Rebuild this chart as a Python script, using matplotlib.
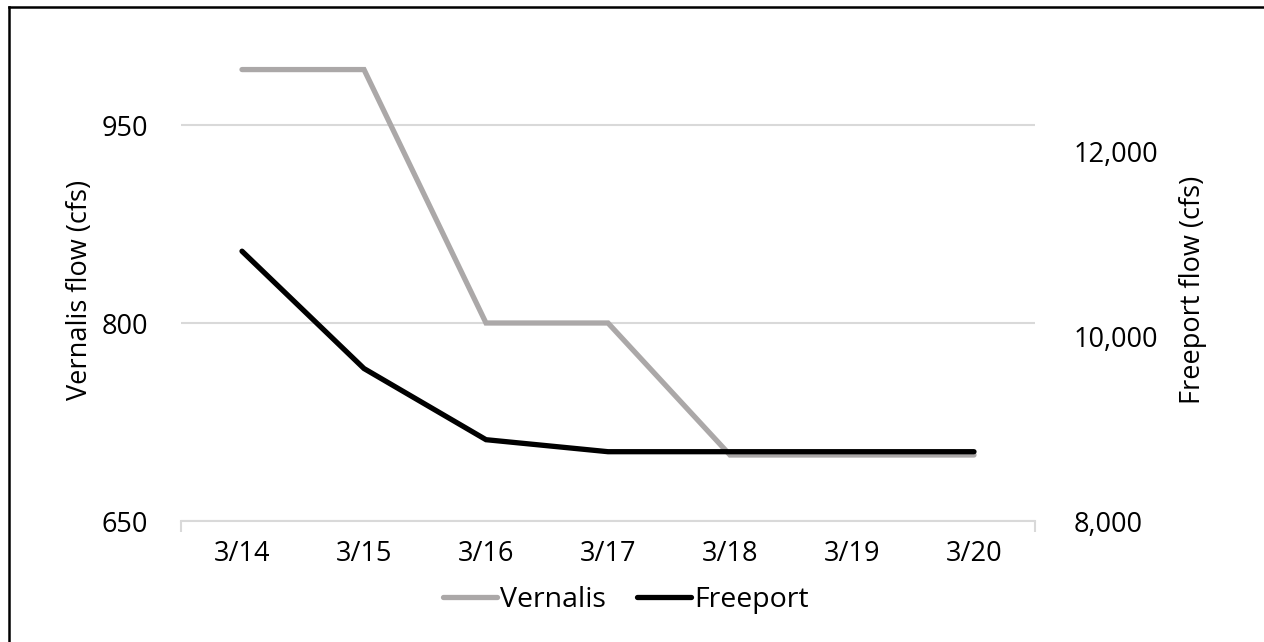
import matplotlib.pyplot as plt
from matplotlib.lines import Line2D
from matplotlib.ticker import FuncFormatter

# datos
fechas = ['3/14', '3/15', '3/16', '3/17', '3/18', '3/19', '3/20']
vernalis = [992, 992, 800, 800, 700, 700, 700]
freeport = [10920, 9650, 8880, 8750, 8750, 8750, 8750]

plt.rcParams['font.family'] = ['Open Sans', 'DejaVu Sans']
fs = 19.5

fig = plt.figure(figsize=(12.64, 6.42), dpi=100)
ax = fig.add_axes([181 / 1264, 1 - 521 / 642, (1035 - 181) / 1264, (521 - 59) / 642])
ax2 = ax.twinx()

x = list(range(len(fechas)))
gris = '#ABA8A8'
ax.plot(x, vernalis, color=gris, lw=3.8, solid_capstyle='round', solid_joinstyle='miter', zorder=3)
ax2.plot(x, freeport, color='black', lw=3.8, solid_capstyle='round', solid_joinstyle='miter', zorder=3)

# eje izquierdo
ax.set_xlim(-0.5, 6.5)
ax.set_ylim(650, 1000)
ax.set_yticks([650, 800, 950])
ax.grid(axis='y', color='#D9D9D9', lw=1.5)
ax.set_axisbelow(True)
ax.set_xticks(x)
ax.set_xticklabels(fechas)
ax.set_xticks([-0.5, 6.5], minor=True)
ax.tick_params(axis='x', which='major', length=0, pad=14, labelsize=fs)
ax.tick_params(axis='x', which='minor', length=8, width=1.5, color='#D9D9D9')
ax.tick_params(axis='y', length=0, pad=24, labelsize=fs)
ax.set_ylabel('Vernalis flow (cfs)', fontsize=fs, labelpad=5)

# eje derecho
ax2.set_ylim(8000, 13000)
ax2.set_yticks([8000, 10000, 12000])
ax2.yaxis.set_major_formatter(FuncFormatter(lambda v, p: f'{int(v):,}'))
ax2.tick_params(axis='y', length=0, pad=28, labelsize=fs)
ax2.set_ylabel('Freeport flow (cfs)', fontsize=fs, labelpad=15)

for a in (ax, ax2):
    for s in ['top', 'left', 'right']:
        a.spines[s].set_visible(False)
ax2.spines['bottom'].set_visible(False)
ax.spines['bottom'].set_color('#D9D9D9')
ax.spines['bottom'].set_linewidth(1.5)

handles = [Line2D([], [], color=gris, lw=3.8, solid_capstyle='round'),
           Line2D([], [], color='black', lw=3.8, solid_capstyle='round')]
fig.legend(handles, ['Vernalis', 'Freeport'], loc='center', bbox_to_anchor=(626 / 1264, 1 - 600 / 642),
           ncol=2, frameon=False, fontsize=20.5, handlelength=1.9, handletextpad=0.1,
           columnspacing=1.1)

# borde superior e izquierdo de la imagen
fig.add_artist(Line2D([9 / 1264, 9 / 1264], [0, 1 - 7 / 642], color='black', lw=1.8, transform=fig.transFigure))
fig.add_artist(Line2D([9 / 1264, 1], [1 - 7 / 642, 1 - 7 / 642], color='black', lw=1.8, transform=fig.transFigure))

fig.savefig('out.png', dpi=100)
